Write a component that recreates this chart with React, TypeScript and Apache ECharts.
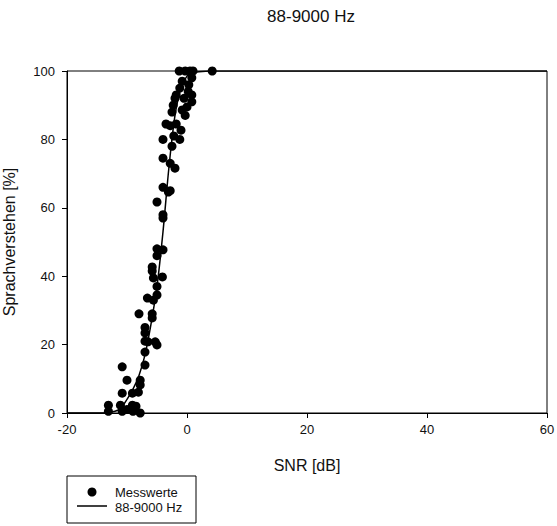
import React, { useEffect, useRef } from "react";
import * as echarts from "echarts";

const titleText = "88-9000 Hz";
const xTitle = "SNR [dB]";
const yTitle = "Sprachverstehen [%]";
const scatterName = "Messwerte";
const lineName = "88-9000 Hz";

// measured points [SNR dB, % understood]
const messwerte: number[][] = [
  [-1.3, 100], [-0.3, 100], [0.5, 100], [1.0, 100], [4.2, 100],
  [-0.8, 97], [0.3, 96], [0.8, 98],
  [-1.2, 95], [0.2, 94], [-1.8, 93], [-0.5, 92], [-2.0, 92], [0.8, 93],
  [-2.3, 90], [0.0, 89.5], [-2.5, 88], [-0.8, 88.6], [-0.3, 87], [0.8, 91],
  [-3.5, 84.5], [-1.8, 84.5], [-2.8, 84], [-1.0, 82.7], [-2.2, 81],
  [-4.0, 80], [-1.2, 80], [-2.5, 78],
  [-4.0, 74.5], [-2.8, 73], [-2.0, 71.6],
  [-4.0, 66], [-2.8, 65], [-3.1, 64.6],
  [-5.0, 61.7], [-4.0, 58], [-4.0, 57],
  [-5.0, 48], [-4.0, 47.7], [-5.0, 46], [-5.8, 42.7], [-5.8, 41.5],
  [-5.6, 39.5], [-4.1, 39.8], [-5.0, 37], [-5.0, 34.5], [-6.6, 33.6], [-5.6, 33],
  [-8.0, 29], [-5.8, 29], [-5.8, 27.8], [-7.0, 25], [-7.0, 23.4], [-7.0, 21], [-5.3, 20.8],
  [-6.5, 20.8], [-5.0, 19.9], [-7.0, 17.8], [-7.0, 14], [-10.8, 13.5],
  [-10.0, 9.6], [-7.8, 9.6], [-7.8, 8.2],
  [-10.8, 5.8], [-9.1, 5.8], [-8.1, 6.1],
  [-13.1, 2.3], [-11.1, 2.3], [-9.1, 2.3], [-8.5, 2],
  [-13.1, 0.5], [-10.8, 0.5], [-9.0, 0.5], [-7.8, 0], [-10.0, 1],
];

// fitted curve
const curveX = [-20, -14, -12, -11, -10, -9, -8, -7, -6, -5, -4, -3, -2, -1, 0, 1, 2, 4, 60];
const curveY = [0, 0, 0.5, 1.5, 4, 7, 11, 17, 26, 37, 53, 72, 87, 95, 98.5, 99.5, 99.8, 100, 100];

const xTicks = [-20, 0, 20, 40, 60];
const yTicks = [0, 20, 40, 60, 80, 100];

const FONT = "Liberation Sans, Arial, sans-serif";

export default function App() {
  const ref = useRef<HTMLDivElement>(null);
  useEffect(() => {
    if (!ref.current) return;
    const chart = echarts.init(ref.current, null, { renderer: "svg" });
    const curve = curveX.map((x, i) => [x, curveY[i]]);
    chart.setOption({
      animation: false,
      backgroundColor: "#fff",
      textStyle: { fontFamily: FONT },
      title: {
        text: titleText,
        left: 306,
        top: 3,
        textAlign: "center",
        textStyle: { fontFamily: FONT, fontSize: 17, fontWeight: "normal", color: "#111" },
      },
      grid: {
        left: 67,
        right: 10,
        top: 71,
        bottom: 113,
        containLabel: false,
        outerBoundsMode: "none",
        show: true,
        borderColor: "#000",
        borderWidth: 1,
        backgroundColor: "transparent",
      },
      xAxis: {
        type: "value",
        min: xTicks[0],
        max: xTicks[xTicks.length - 1],
        interval: 20,
        name: xTitle,
        nameLocation: "middle",
        nameGap: 44,
        nameTextStyle: { fontFamily: FONT, fontSize: 16, color: "#111" },
        axisLine: { show: true, onZero: false, lineStyle: { color: "#000", width: 1 } },
        axisTick: { show: true, inside: false, length: 5, lineStyle: { color: "#000" } },
        axisLabel: { fontFamily: FONT, fontSize: 13, color: "#111", margin: 10 },
        splitLine: { show: false },
      },
      yAxis: {
        type: "value",
        min: yTicks[0],
        max: yTicks[yTicks.length - 1],
        interval: 20,
        name: yTitle,
        nameLocation: "middle",
        nameGap: 50,
        nameTextStyle: { fontFamily: FONT, fontSize: 16, color: "#111" },
        axisLine: { show: true, onZero: false, lineStyle: { color: "#000", width: 1 } },
        axisTick: { show: true, inside: false, length: 5, lineStyle: { color: "#000" } },
        axisLabel: { fontFamily: FONT, fontSize: 13, color: "#111", margin: 12 },
        splitLine: { show: false },
      },
      series: [
        {
          name: lineName,
          type: "line",
          data: curve,
          showSymbol: false,
          smooth: 0.3,
          lineStyle: { color: "#000", width: 1.5 },
          z: 2,
        },
        {
          name: scatterName,
          type: "scatter",
          data: messwerte,
          symbol: "circle",
          symbolSize: 9,
          itemStyle: { color: "#000", opacity: 1 },
          z: 3,
        },
      ],
      graphic: [
        {
          type: "rect",
          shape: { x: 67, y: 476, width: 129, height: 47 },
          style: { fill: "#fff", stroke: "#000", lineWidth: 1 },
        },
        {
          type: "circle",
          shape: { cx: 92, cy: 492, r: 4.5 },
          style: { fill: "#000" },
        },
        {
          type: "line",
          shape: { x1: 77, y1: 506, x2: 107, y2: 506 },
          style: { stroke: "#000", lineWidth: 1.5 },
        },
        {
          type: "text",
          x: 115,
          y: 492,
          style: { text: scatterName, fontFamily: FONT, fontSize: 13, fill: "#111", verticalAlign: "middle" },
        },
        {
          type: "text",
          x: 115,
          y: 507,
          style: { text: lineName, fontFamily: FONT, fontSize: 13, fill: "#111", verticalAlign: "middle" },
        },
      ],
    });
    return () => chart.dispose();
  }, []);
  return <div ref={ref} style={{ width: 557, height: 526, position: "absolute", left: 0, top: 0 }} />;
}
